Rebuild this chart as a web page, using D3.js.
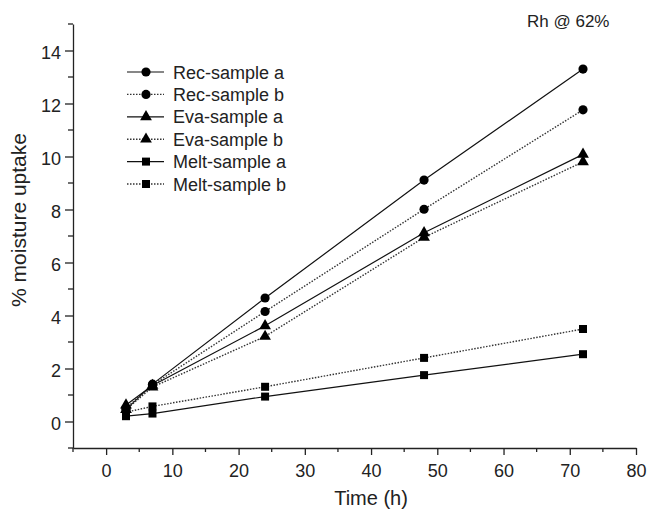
<!DOCTYPE html>
<meta charset="utf-8">
<style>
body { margin: 0; background: #fff; }
svg { font-family: "Liberation Sans", Arial, sans-serif; }
.axis path, .axis line { stroke: #222; stroke-width: 1.3px; }
.axis text { font-size: 18px; fill: #222; }
</style>
<body>
<svg width="651" height="509"></svg>
<script src="https://d3js.org/d3.v7.min.js"></script>
<script>
// data
const times  = [3, 7, 24, 48, 72];
const recA   = [0.45, 1.41, 4.66, 9.11, 13.3];
const recB   = [0.5, 1.38, 4.15, 8.01, 11.76];
const evaA   = [0.62, 1.36, 3.61, 7.12, 10.08];
const evaB   = [0.45, 1.3, 3.21, 6.95, 9.8];
const meltA  = [0.2, 0.3, 0.94, 1.75, 2.54];
const meltB  = [0.35, 0.57, 1.31, 2.4, 3.49];
const names  = ["Rec-sample a", "Rec-sample b", "Eva-sample a", "Eva-sample b", "Melt-sample a", "Melt-sample b"];
const xTicks = [0, 10, 20, 30, 40, 50, 60, 70, 80];
const yTicks = [0, 2, 4, 6, 8, 10, 12, 14];

const series = [
  {name: names[0], vals: recA,  shape: d3.symbolCircle,   dash: null},
  {name: names[1], vals: recB,  shape: d3.symbolCircle,   dash: "1.5,1.5"},
  {name: names[2], vals: evaA,  shape: d3.symbolTriangle, dash: null},
  {name: names[3], vals: evaB,  shape: d3.symbolTriangle, dash: "1.5,1.5"},
  {name: names[4], vals: meltA, shape: d3.symbolSquare,   dash: null},
  {name: names[5], vals: meltB, shape: d3.symbolSquare,   dash: "1.5,1.5"}
];
function sz(s) { return s === d3.symbolCircle ? 66 : s === d3.symbolTriangle ? 60 : 64; }

const svg = d3.select("svg");
const margin = {left: 73, right: 15, top: 24, bottom: 61};
const W = 651, H = 509;

const x = d3.scaleLinear().domain([-5, 80]).range([margin.left, W - margin.right]);
const y = d3.scaleLinear().domain([-1, 15]).range([H - margin.bottom, margin.top]);

// minor ticks
const xMinor = d3.range(-5, 81, 5).filter(v => v % 10 !== 0);
const yMinor = d3.range(-1, 16, 2);

const gx = svg.append("g").attr("class", "axis")
  .attr("transform", "translate(0," + (H - margin.bottom) + ")");
gx.call(d3.axisBottom(x).tickValues(xTicks).tickSize(7).tickSizeOuter(0).tickPadding(9));
gx.selectAll(".minor").data(xMinor).enter().append("line")
  .attr("class", "minor")
  .attr("x1", d => x(d)).attr("x2", d => x(d))
  .attr("y1", 0).attr("y2", 4);

const gy = svg.append("g").attr("class", "axis")
  .attr("transform", "translate(" + margin.left + ",0)");
gy.call(d3.axisLeft(y).tickValues(yTicks).tickSize(8).tickSizeOuter(0).tickPadding(4));
gy.selectAll(".tick text").attr("dy", "0.45em");
gy.selectAll(".minor").data(yMinor).enter().append("line")
  .attr("class", "minor")
  .attr("x1", 0).attr("x2", -5)
  .attr("y1", d => y(d)).attr("y2", d => y(d));

// axis titles
svg.append("text")
  .attr("x", x(40)).attr("y", 505)
  .attr("text-anchor", "middle")
  .attr("font-size", 20).attr("fill", "#222")
  .text("Time (h)");
svg.append("text")
  .attr("transform", "translate(26,220) rotate(-90)")
  .attr("text-anchor", "middle")
  .attr("font-size", 21).attr("fill", "#222")
  .text("% moisture uptake");

svg.append("text")
  .attr("x", 527).attr("y", 27)
  .attr("font-size", 17).attr("fill", "#222")
  .text("Rh @ 62%");

// lines + markers
const line = d3.line().x((d, i) => x(times[i])).y(d => y(d));
series.forEach(s => {
  svg.append("path")
    .datum(s.vals)
    .attr("d", line)
    .attr("fill", "none")
    .attr("stroke", s.dash ? "#333" : "#111")
    .attr("stroke-width", s.dash ? 1.4 : 1.2)
    .attr("stroke-dasharray", s.dash);
});
series.forEach(s => {
  svg.append("g").selectAll("path")
    .data(s.vals).enter().append("path")
    .attr("d", d3.symbol().type(s.shape).size(sz(s.shape)))
    .attr("transform", (d, i) => "translate(" + x(times[i]) + "," + y(d) + ")")
    .attr("fill", "#000");
});

// legend
const leg = svg.append("g").attr("transform", "translate(127,72)");
const rows = leg.selectAll("g").data(series).enter().append("g")
  .attr("transform", (d, i) => "translate(0," + (i * 22.4) + ")");
rows.append("line")
  .attr("x1", 0).attr("x2", 37).attr("y1", 0).attr("y2", 0)
  .attr("stroke", d => d.dash ? "#333" : "#111")
  .attr("stroke-width", d => d.dash ? 1.4 : 1.2)
  .attr("stroke-dasharray", d => d.dash);
rows.append("path")
  .attr("d", d => d3.symbol().type(d.shape).size(sz(d.shape))())
  .attr("transform", "translate(19,0)")
  .attr("fill", "#000");
rows.append("text")
  .attr("x", 46).attr("y", 6.5)
  .attr("font-size", 18).attr("fill", "#222")
  .text(d => d.name);
</script>
</body>
